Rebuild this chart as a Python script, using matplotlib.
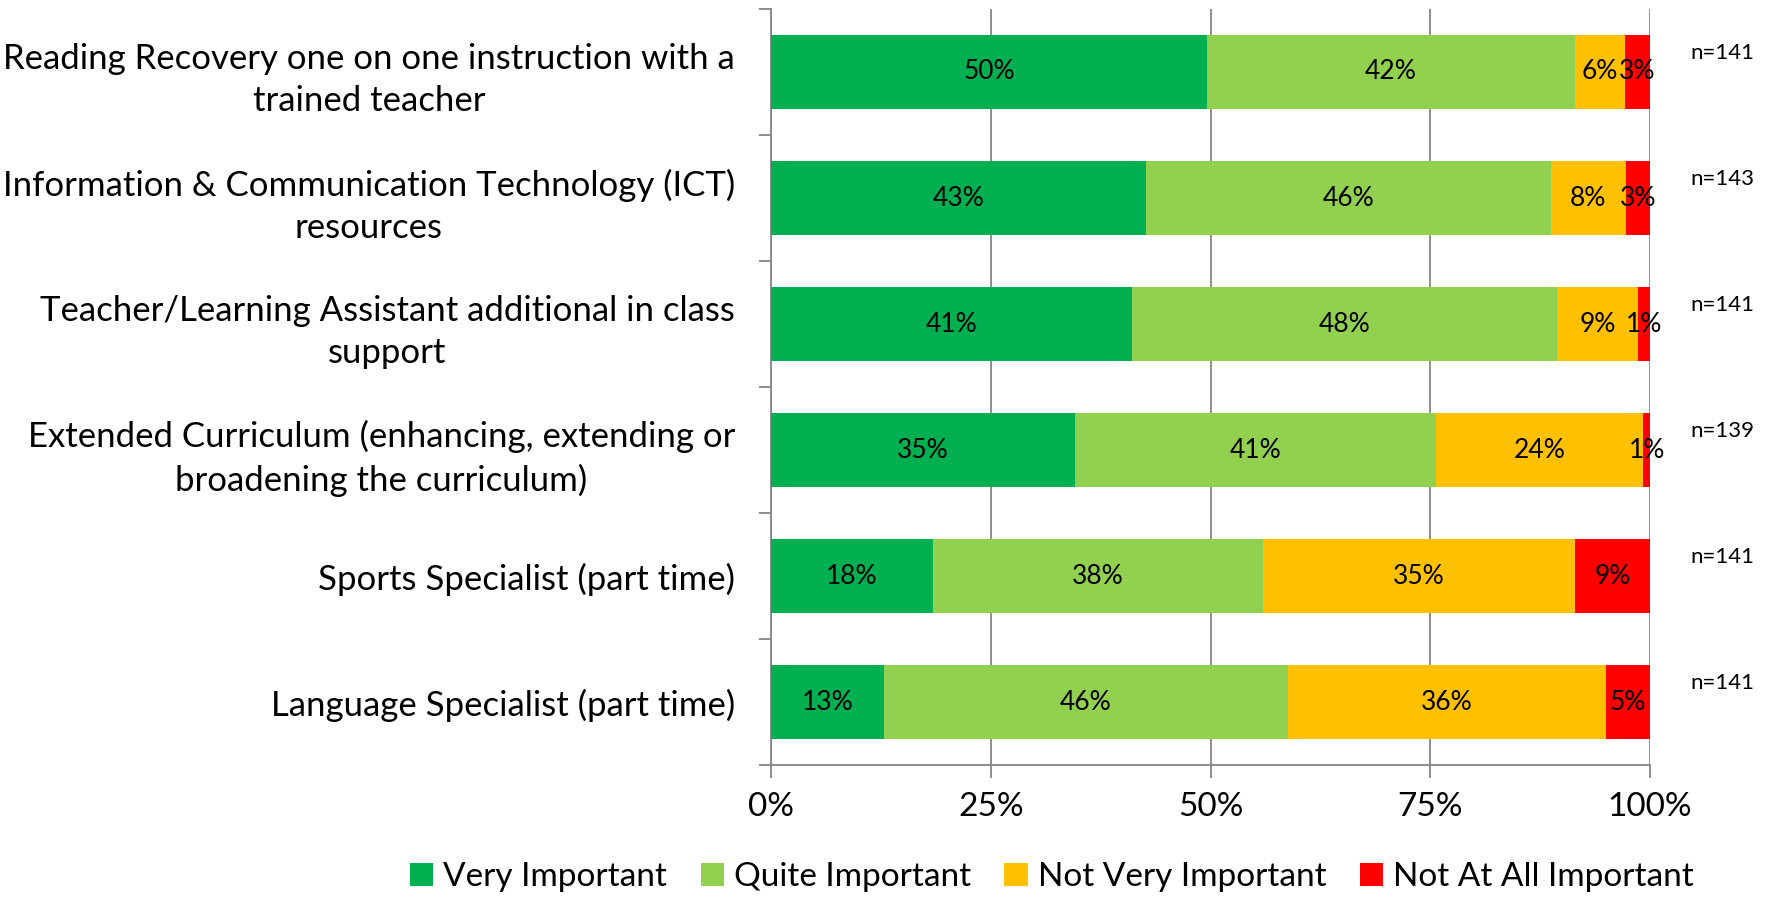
import matplotlib
matplotlib.use("Agg")
import matplotlib.pyplot as plt
import numpy as np

plt.rcParams['font.family'] = ['Lato', 'DejaVu Sans']

categories = [
    "Reading Recovery one on one instruction with a\ntrained teacher",
    "Information & Communication Technology (ICT)\nresources",
    "Teacher/Learning Assistant additional in class\nsupport",
    "Extended Curriculum (enhancing, extending or\nbroadening the curriculum)",
    "Sports Specialist (part time)",
    "Language Specialist (part time)",
]
series_names = ["Very Important", "Quite Important", "Not Very Important", "Not At All Important"]
very_important = [49.6, 42.6, 41.1, 34.6, 18.4, 12.8]
quite_important = [41.8, 46.1, 48.3, 41.0, 37.6, 46.0]
not_very_important = [5.7, 8.5, 9.2, 23.6, 35.4, 36.2]
not_at_all_important = [2.9, 2.8, 1.4, 0.8, 8.6, 5.0]
n_labels = ["n=141", "n=143", "n=141", "n=139", "n=141", "n=141"]
xtick_vals = [0, 25, 50, 75, 100]
xtick_labels = ["0%", "25%", "50%", "75%", "100%"]

colors = ["#00B050", "#92D050", "#FFC000", "#FF0000"]

fig = plt.figure(figsize=(17.77, 8.97), dpi=100)
ax = fig.add_axes([0.4339, 0.147, 0.4947, 0.843])

y = np.arange(len(categories))
series = [very_important, quite_important, not_very_important, not_at_all_important]
left = np.zeros(len(categories))
for vals, col, name in zip(series, colors, series_names):
    vals = np.array(vals)
    ax.barh(y, vals, left=left, height=0.585, color=col, label=name, zorder=3)
    for yi, l, v in zip(y, left, vals):
        ax.text(l + v / 2, yi, f"{round(v):.0f}%", ha='center', va='center',
                fontsize=19, color='black', zorder=4)
    left = left + vals

for yi, nl in zip(y, n_labels):
    ax.text(1.046, yi - 0.15, nl, transform=ax.get_yaxis_transform(),
            ha='left', va='center', fontsize=16)

ax.set_xlim(0, 100)
ax.set_ylim(len(categories) - 0.5, -0.5)
ax.set_xticks(xtick_vals)
ax.set_xticklabels(xtick_labels, fontsize=24)
ax.set_yticks(y)
ax.set_yticklabels(categories, fontsize=25, ha='right', multialignment='center',
                   linespacing=1.4)
ax.set_yticks(np.arange(len(categories) + 1) - 0.5, minor=True)
ax.tick_params(axis='y', which='major', length=0, pad=26)
ax.tick_params(axis='y', which='minor', length=9, color='#868686', width=1.3, direction='out')
ax.tick_params(axis='x', which='major', length=9, color='#868686', width=1.3, direction='out', pad=10)

ax.grid(axis='x', color='#868686', linewidth=1.3, zorder=0)
for s in ['top', 'right']:
    ax.spines[s].set_visible(False)
for s in ['left', 'bottom']:
    ax.spines[s].set_color('#868686')
    ax.spines[s].set_linewidth(1.3)

handles, labels = ax.get_legend_handles_labels()
fig.legend(handles, labels, loc='center', bbox_to_anchor=(0.592, 0.022), ncol=4,
           frameon=False, fontsize=24, handlelength=0.7, handleheight=0.7,
           handletextpad=0.3, columnspacing=1.0, borderaxespad=0)

fig.savefig("out.png", dpi=100)
